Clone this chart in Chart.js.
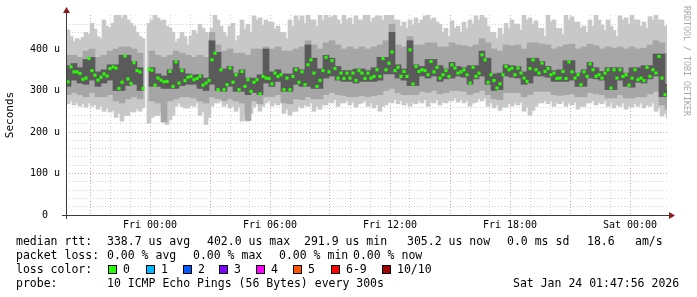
<!DOCTYPE html>
<html>
<head>
<meta charset="utf-8">
<script src="https://cdn.jsdelivr.net/npm/chart.js@4.4.1/dist/chart.umd.min.js"></script>
<style>
	html, body { margin: 0; padding: 0; background: #fff; }
</style>
</head>
<body>
<canvas id="pingGraph" width="697" height="297"></canvas>
<script>
// time is in hours from Fri 00:00; fine columns every 9 min, coarse smoke columns every 18 min
const fineStart = -4.1, fineStep = 0.15;
const coarseStart = -4.1, coarseStep = 0.3;

// median rtt in microseconds
const median = [
	321, 357, 345, 345, 341, 327, 330, 377, 348, 337,
	325, 332, 340, 335, 353, 357, 354, 305, 320, 383,
	328, 317, 367, 348, 345, 305, null, 351, 349, 313,
	330, 325, 321, 322, 346, 310, 369, 318, 348, 324,
	332, 334, 326, 329, 334, 313, 318, 324, 374, 390,
	302, 350, 302, 314, 354, 320, 338, 302, 346, 310,
	326, 298, 320, 326, 292, 334, 330, 329, 316, 342,
	334, 338, 302, 330, 302, 334, 350, 320, 345, 314,
	362, 374, 342, 310, 324, 348, 380, 345, 372, 353,
	330, 342, 329, 342, 330, 342, 324, 348, 342, 329,
	342, 330, 334, 350, 334, 377, 350, 366, 393, 348,
	356, 334, 346, 334, 398, 316, 358, 346, 350, 348,
	338, 370, 345, 356, 330, 338, 348, 334, 362, 354,
	342, 345, 350, 338, 318, 356, 334, 342, 386, 374,
	320, 338, 324, 306, 316, 338, 358, 350, 354, 338,
	354, 342, 330, 322, 353, 374, 350, 342, 366, 346,
	353, 338, 342, 329, 330, 346, 329, 369, 345, 330,
	338, 314, 345, 334, 364, 350, 334, 338, 330, 342,
	350, 306, 350, 330, 350, 334, 338, 313, 330, 350,
	326, 330, 324, 356, 334, 350, 342, 382, 330, 290,
	306
];

// outer smoke (fastest / slowest ping), fine columns
const pingMin = [
	268, 275, 265, 270, 262, 268, 260, 270, 262, 266,
	255, 262, 250, 258, 248, 252, 235, 245, 226, 240,
	240, 250, 248, 255, 250, 258, null, 221, 235, 240,
	240, 248, 245, 218, 230, 240, 262, 270, 262, 258,
	258, 265, 262, 270, 240, 250, 218, 235, 262, 270,
	270, 278, 262, 268, 258, 262, 250, 260, 226, 240,
	226, 245, 260, 268, 250, 262, 270, 275, 262, 270,
	265, 272, 245, 255, 240, 250, 250, 262, 258, 265,
	262, 270, 250, 262, 255, 265, 265, 272, 270, 278,
	262, 270, 270, 276, 265, 272, 260, 268, 270, 275,
	262, 270, 258, 266, 250, 262, 265, 272, 270, 278,
	268, 275, 265, 270, 262, 270, 268, 275, 270, 278,
	262, 272, 270, 278, 265, 272, 270, 275, 275, 282,
	272, 278, 270, 276, 262, 270, 272, 280, 275, 282,
	262, 270, 258, 265, 252, 260, 260, 268, 262, 270,
	265, 272, 250, 260, 240, 252, 262, 270, 270, 276,
	268, 275, 262, 270, 268, 275, 262, 270, 265, 272,
	255, 262, 262, 270, 270, 276, 265, 272, 268, 275,
	262, 270, 258, 266, 262, 270, 255, 262, 260, 268,
	262, 270, 258, 265, 262, 270, 250, 258, 238, 245,
	235
];
const pingMax = [
	446, 430, 418, 425, 422, 428, 440, 436, 462, 448,
	430, 425, 470, 455, 450, 462, 482, 482, 475, 482,
	470, 462, 455, 440, 430, 425, null, 462, 470, 482,
	475, 468, 470, 455, 450, 440, 418, 425, 440, 430,
	410, 432, 445, 438, 460, 450, 440, 425, 450, 483,
	470, 455, 440, 430, 455, 462, 420, 432, 470, 448,
	460, 440, 480, 470, 475, 458, 470, 465, 465, 448,
	455, 440, 440, 425, 470, 455, 480, 470, 480, 462,
	482, 470, 470, 455, 482, 470, 482, 476, 478, 482,
	470, 460, 482, 470, 475, 460, 480, 470, 470, 482,
	482, 465, 475, 480, 480, 470, 483, 483, 483, 470,
	470, 455, 465, 450, 470, 458, 475, 462, 470, 480,
	482, 470, 475, 465, 460, 440, 450, 430, 468, 450,
	455, 440, 465, 450, 470, 460, 480, 470, 483, 475,
	455, 440, 440, 425, 450, 435, 462, 450, 470, 460,
	460, 445, 482, 470, 475, 460, 468, 450, 450, 430,
	482, 465, 470, 450, 450, 435, 482, 470, 478, 465,
	465, 450, 455, 440, 470, 455, 482, 470, 458, 445,
	470, 455, 445, 430, 480, 470, 475, 460, 482, 470,
	470, 455, 465, 450, 478, 470, 482, 470, 470, 455,
	455
];

// inner smoke bands, coarse columns
const midLo = [
	290, 295, 290, 285, 295, 285, 285, 290, 275, 270,
	280, 285, 280, null, 275, 270, 224, 275, 280, 285,
	285, 282, 275, 270, 285, 280, 275, 280, 275, 270,
	228, 275, 268, 285, 285, 290, 270, 268, 280, 278,
	285, 280, 280, 290, 295, 290, 288, 285, 285, 288,
	285, 288, 290, 300, 305, 295, 290, 290, 290, 298,
	295, 300, 292, 295, 300, 300, 298, 290, 295, 300,
	290, 280, 278, 295, 295, 295, 285, 290, 298, 298,
	298, 290, 288, 290, 292, 285, 285, 295, 292, 290,
	282, 282, 290, 282, 282, 285, 285, 292, 298, 265,
	255
];
const midHi = [
	385, 385, 380, 395, 400, 380, 385, 395, 400, 405,
	405, 400, 390, null, 395, 385, 380, 385, 395, 390,
	385, 380, 385, 380, 440, 410, 395, 400, 390, 390,
	385, 400, 400, 405, 400, 405, 395, 395, 400, 405,
	420, 410, 400, 415, 420, 410, 400, 405, 400, 405,
	400, 405, 410, 420, 460, 410, 405, 430, 410, 410,
	415, 415, 405, 405, 415, 410, 408, 405, 410, 425,
	415, 400, 395, 410, 408, 410, 400, 415, 415, 412,
	410, 400, 405, 410, 412, 400, 405, 412, 408, 400,
	405, 402, 405, 400, 405, 400, 402, 410, 420, 415,
	390
];
const darkLo = [
	310, 325, 318, 315, 325, 310, 318, 325, 300, 300,
	312, 315, 300, null, 310, 310, 305, 305, 305, 312,
	315, 315, 305, 300, 315, 300, 298, 310, 298, 298,
	290, 295, 290, 318, 310, 322, 298, 298, 315, 310,
	310, 305, 305, 330, 335, 325, 322, 322, 318, 322,
	322, 322, 325, 340, 340, 330, 325, 312, 312, 335,
	330, 335, 322, 328, 330, 335, 332, 315, 328, 335,
	315, 300, 302, 335, 332, 330, 315, 318, 335, 335,
	332, 322, 322, 322, 325, 310, 310, 330, 328, 325,
	302, 302, 325, 310, 308, 320, 318, 328, 335, 285,
	285
];
const darkHi = [
	360, 365, 355, 375, 380, 345, 350, 362, 362, 385,
	385, 370, 355, null, 355, 340, 335, 350, 372, 352,
	340, 338, 338, 330, 420, 392, 352, 358, 342, 350,
	330, 330, 338, 400, 345, 350, 340, 340, 355, 350,
	410, 378, 352, 385, 378, 358, 348, 348, 352, 352,
	348, 355, 380, 380, 440, 362, 352, 420, 362, 358,
	375, 375, 360, 352, 368, 358, 355, 360, 360, 395,
	378, 340, 342, 362, 360, 358, 345, 378, 378, 370,
	358, 348, 350, 372, 372, 342, 350, 368, 355, 346,
	355, 355, 355, 342, 355, 355, 360, 360, 388, 388,
	315
];

// x axis labels
const tickHours = [0, 6, 12, 18, 24];
const tickLabels = ['Fri 00:00', 'Fri 06:00', 'Fri 12:00', 'Fri 18:00', 'Sat 00:00'];

// legend
const lossLabels = ['0', '1', '2', '3', '4', '5', '6-9', '10/10'];
const lossColors = ['#26ff00', '#00b8ff', '#0059ff', '#7e00ff', '#ff00ff', '#ff5500', '#ff0000', '#a10000'];

const mono = '"DejaVu Sans Mono", monospace';

function band(lo, hi, start, step) {
	let out = [];
	for (let j = 0; j < lo.length; j++) {
		if (lo[j] == null) continue;
		out.push({ x: start + j * step, y: [lo[j], hi[j]] });
	}
	return out;
}

let medianPoints = [];
median.forEach((v, i) => {
	if (v != null) medianPoints.push({ x: fineStart + i * fineStep, y: v });
});

const rrdText = {
	id: 'rrdText',
	afterDraw(chart) {
		const ctx = chart.ctx;
		const a = chart.chartArea;
		ctx.save();

		// axes
		ctx.strokeStyle = '#3c3c3c';
		ctx.lineWidth = 1;
		ctx.beginPath();
		ctx.moveTo(a.left + 0.5, a.top - 3);
		ctx.lineTo(a.left + 0.5, a.bottom + 4);
		ctx.moveTo(a.left - 4, a.bottom + 0.5);
		ctx.lineTo(a.right + 3, a.bottom + 0.5);
		ctx.stroke();

		ctx.fillStyle = '#8b1a1a';
		ctx.beginPath();
		ctx.moveTo(a.left + 0.5, a.top - 8);
		ctx.lineTo(a.left - 3, a.top - 2);
		ctx.lineTo(a.left + 4, a.top - 2);
		ctx.closePath();
		ctx.fill();
		ctx.beginPath();
		ctx.moveTo(a.right + 8, a.bottom + 0.5);
		ctx.lineTo(a.right + 2, a.bottom - 3);
		ctx.lineTo(a.right + 2, a.bottom + 4);
		ctx.closePath();
		ctx.fill();

		// legend block
		ctx.fillStyle = '#000';
		ctx.font = '11.5px ' + mono;
		ctx.textAlign = 'left';
		ctx.textBaseline = 'alphabetic';
		const rows = [
			[245, [['median rtt:', 16], ['338.7 us avg', 107], ['402.0 us max', 207], ['291.9 us min', 304],
				['305.2 us now', 407], ['0.0 ms sd', 507], ['18.6', 587], ['am/s', 635]]],
			[259, [['packet loss:', 16], ['0.00 % avg', 107], ['0.00 % max', 193], ['0.00 % min', 279], ['0.00 % now', 353]]],
			[273, [['loss color:', 16]]],
			[287, [['probe:', 16], ['10 ICMP Echo Pings (56 Bytes) every 300s', 107], ['Sat Jan 24 01:47:56 2026', 513]]]
		];
		rows.forEach(r => r[1].forEach(t => ctx.fillText(t[0], t[1], r[0])));

		const boxX = [108, 146, 183, 219, 256, 293, 331, 382];
		lossLabels.forEach((lab, k) => {
			ctx.fillStyle = lossColors[k];
			ctx.fillRect(boxX[k], 265, 9, 9);
			ctx.strokeStyle = '#000';
			ctx.strokeRect(boxX[k] + 0.5, 265.5, 8, 8);
			ctx.fillStyle = '#000';
			ctx.fillText(lab, boxX[k] + 15, 273);
		});

		// vertical credit on the right
		ctx.translate(686, 6);
		ctx.rotate(Math.PI / 2);
		ctx.fillStyle = '#a8a8a8';
		ctx.font = '8.3px ' + mono;
		ctx.textBaseline = 'middle';
		ctx.fillText('RRDTOOL / TOBI OETIKER', 0, 0);
		ctx.restore();
	}
};

let pingGraph = document.getElementById('pingGraph');

new Chart(pingGraph, {
	type: 'bar',
	data: {
		datasets: [{
			type: 'line',
			label: 'median',
			data: medianPoints,
			showLine: false,
			pointStyle: 'rect',
			pointRadius: 2.2,
			pointBorderWidth: 0,
			pointBackgroundColor: '#26ff00',
			order: 0
		}, {
			label: 'dark',
			data: band(darkLo, darkHi, coarseStart, coarseStep),
			backgroundColor: '#5a5a5a',
			barThickness: 6,
			grouped: false,
			order: 1
		}, {
			label: 'mid',
			data: band(midLo, midHi, coarseStart, coarseStep),
			backgroundColor: '#a6a6a6',
			barThickness: 6,
			grouped: false,
			order: 2
		}, {
			label: 'light',
			data: band(pingMin, pingMax, fineStart, fineStep),
			backgroundColor: '#c8c8c8',
			barThickness: 4,
			grouped: false,
			order: 3
		}]
	},
	options: {
		responsive: false,
		animation: false,
		layout: {
			padding: { top: 15, right: 30, left: 0, bottom: 0 },
			autoPadding: false
		},
		plugins: {
			legend: { display: false },
			tooltip: { enabled: false }
		},
		scales: {
			x: {
				type: 'linear',
				min: -4.2,
				max: 25.85,
				offset: false,
				z: 1,
				afterBuildTicks: ax => { ax.ticks = ax.ticks.filter(t => Number.isInteger(t.value)); },
				afterFit: ax => { ax.height = 82; },
				grid: {
					offset: false,
					drawTicks: false,
					color: c => (c.tick && c.tick.value % 3 === 0) ? '#e6a0a0' : '#d2d2d2'
				},
				border: { display: false, dash: [1, 2] },
				ticks: {
					stepSize: 1,
					autoSkip: false,
					maxRotation: 0,
					minRotation: 0,
					padding: 4,
					color: '#000',
					font: { family: mono, size: 10 },
					callback: v => {
						let k = tickHours.indexOf(v);
						return k >= 0 ? tickLabels[k] : '';
					}
				}
			},
			y: {
				min: 0,
				max: 482,
				z: 1,
				afterBuildTicks: ax => { ax.ticks = ax.ticks.filter(t => t.value % 20 === 0); },
				afterFit: ax => { ax.width = 66; },
				grid: {
					drawTicks: false,
					color: c => (c.tick && c.tick.value % 100 === 0) ? '#e6a0a0' : '#d2d2d2'
				},
				border: { display: false, dash: [1, 2] },
				ticks: {
					stepSize: 20,
					autoSkip: false,
					crossAlign: 'center',
					padding: 6,
					color: '#000',
					font: { family: mono, size: 10 },
					callback: v => v === 0 ? '0' : (v % 100 === 0 ? v + ' u' : '')
				},
				title: {
					display: true,
					text: 'Seconds',
					color: '#000',
					font: { family: mono, size: 11 },
					padding: { top: 4, bottom: 0 }
				}
			}
		}
	},
	plugins: [rrdText]
});
</script>
</body>
</html>
